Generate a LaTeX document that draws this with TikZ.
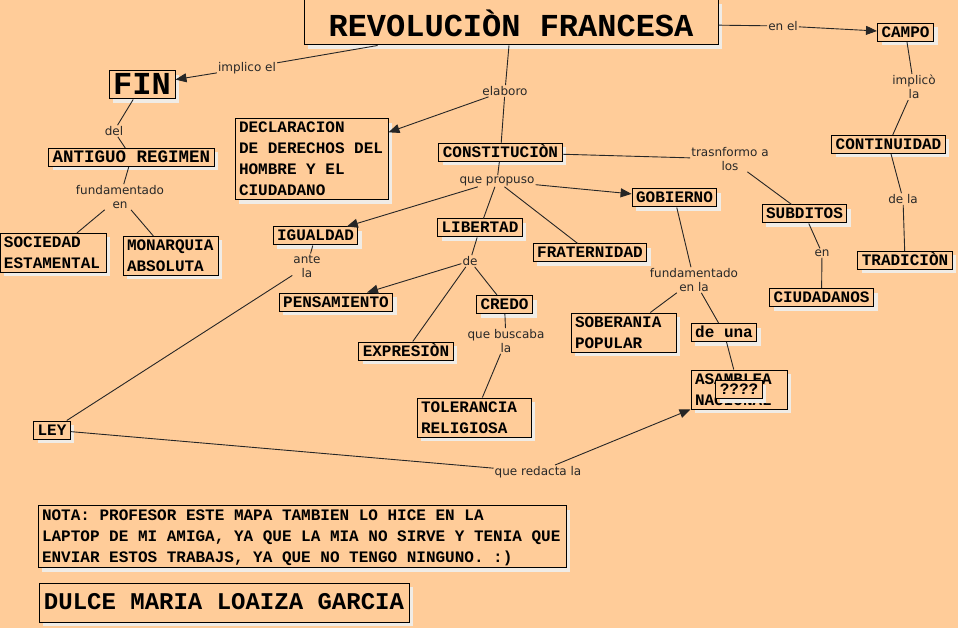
\documentclass[tikz,border=0pt]{standalone}
\usepackage{fontspec}
\usetikzlibrary{arrows.meta,shadows}
\newfontfamily\monofont{Liberation Mono}
\newfontfamily\labfont{DejaVu Sans}
\definecolor{bg}{RGB}{255,204,153}
\definecolor{shadowc}{RGB}{240,236,230}
\definecolor{labc}{RGB}{40,40,40}
\tikzset{
  cbox/.style={draw=black, line width=1pt, fill=bg,
    font=\monofont\bfseries\fontsize{16}{21}\selectfont,
    inner xsep=4pt, inner ysep=2pt, text height=12pt, text depth=2pt,
    drop shadow={shadow xshift=4pt, shadow yshift=-4pt, fill=shadowc, opacity=1}},
  mcbox/.style={cbox, align=left, text width=#1,
    execute at begin node={\frenchspacing\spaceskip=9.6pt\relax\xspaceskip=9.6pt\relax}},
  two/.style={text depth=23pt},
  three/.style={text depth=44pt},
  four/.style={text depth=65pt},
  lab/.style={font=\labfont\fontsize{12}{14}\selectfont, text=labc, align=center, inner sep=1pt},
  con/.style={draw=black!85, line width=0.9pt},
  arr/.style={con, -{Triangle[length=11pt,width=9pt]}},
}
\begin{document}
\begin{tikzpicture}[x=1pt,y=-1pt]
\fill[bg] (0,0) rectangle (958,628);
\useasboundingbox (0,0) rectangle (958,628);

% concepts
\node[cbox, font=\monofont\bfseries\fontsize{32}{36}\selectfont, minimum width=414pt, minimum height=45pt, text height=29pt, text depth=1pt] (rev) at (511,22.5) {REVOLUCIÒN FRANCESA};
\node[cbox, font=\monofont\bfseries\fontsize{32}{36}\selectfont, minimum width=66pt, minimum height=28pt, text height=21pt, text depth=1pt, inner xsep=2pt] (fin) at (142,85) {FIN};
\node[cbox, font=\monofont\bfseries\fontsize{17.5}{21}\selectfont] (antiguo) at (131.5,157.5) {ANTIGUO REGIMEN};
\node[mcbox=145pt, four] (decl) at (311.5,159.5) {DECLARACION\\DE DERECHOS DEL\\HOMBRE Y EL\\CIUDADANO};
\node[cbox] (const) at (500.5,152.5) {CONSTITUCIÒN};
\node[cbox] (campo) at (905.5,32.5) {CAMPO};
\node[cbox] (contin) at (888.5,144.5) {CONTINUIDAD};
\node[cbox] (gob) at (674.5,198) {GOBIERNO};
\node[cbox] (subd) at (804.5,214) {SUBDITOS};
\node[cbox] (trad) at (905,260.5) {TRADICIÒN};
\node[cbox] (ciud) at (821.5,297.5) {CIUDADANOS};
\node[cbox] (frat) at (590,253) {FRATERNIDAD};
\node[mcbox=97pt, two] (sob) at (623.5,332.5) {SOBERANIA\\POPULAR};
\node[cbox] (deuna) at (724,332.5) {de una};
\node[mcbox=88pt, two] (asam) at (739,389.5) {ASAMBLEA\\NACIONAL};
\node[cbox] (qqq) at (739,389.5) {????};
\node[cbox] (igual) at (315.5,236) {IGUALDAD};
\node[cbox] (libert) at (480,228) {LIBERTAD};
\node[cbox] (pens) at (336,302) {PENSAMIENTO};
\node[cbox] (credo) at (504.5,304.5) {CREDO};
\node[cbox] (expr) at (406,351) {EXPRESIÒN};
\node[mcbox=106pt, two] (toler) at (474,417.5) {TOLERANCIA\\RELIGIOSA};
\node[mcbox=98pt, two] (soc) at (53,253) {SOCIEDAD\\ESTAMENTAL};
\node[mcbox=87pt, two] (monar) at (170.5,256) {MONARQUIA\\ABSOLUTA};
\node[cbox] (ley) at (52,430) {LEY};
\node[mcbox=520pt, three, inner ysep=3pt] (nota) at (302,536.5) {NOTA: PROFESOR ESTE MAPA TAMBIEN LO HICE EN LA\\LAPTOP DE MI AMIGA, YA QUE LA MIA NO SIRVE Y TENIA QUE\\ENVIAR ESTOS TRABAJS, YA QUE NO TENGO NINGUNO. :)};
\node[cbox, font=\monofont\bfseries\fontsize{24}{28}\selectfont, minimum width=370pt, minimum height=39pt, text height=15pt, text depth=2pt] (dulce) at (224,602.5) {DULCE MARIA LOAIZA GARCIA};

% linking phrases
\node[lab] (implico) at (247,68) {implico el};
\node[lab] (elaboro) at (505,91) {elaboro};
\node[lab] (enel) at (783,26) {en el};
\node[lab] (implicola) at (914,87) {implicò\\la};
\node[lab] (trasn) at (730,159) {trasnformo a\\los};
\node[lab] (dela) at (903,199) {de la};
\node[lab] (en) at (822,253) {en};
\node[lab] (fundla) at (694,280) {fundamentado\\en la};
\node[lab] (del) at (114,131) {del};
\node[lab] (funden) at (120,197) {fundamentado\\en};
\node[lab] (propuso) at (497,181) {que propuso};
\node[lab] (ante) at (307,266) {ante\\la};
\node[lab] (de) at (470,261) {de};
\node[lab] (buscaba) at (506,341) {que buscaba\\la};
\node[lab] (redacta) at (538,472) {que redacta la};

% connectors
\draw[con] (rev) -- (implico);
\draw[arr] (implico) -- (fin);
\draw[con] (rev) -- (elaboro);
\draw[arr] (elaboro) -- (decl);
\draw[con] (elaboro) -- (const);
\draw[con] (rev) -- (enel);
\draw[arr] (enel) -- (campo);
\draw[con] (campo) -- (implicola);
\draw[con] (implicola) -- (contin);
\draw[con] (contin) -- (dela);
\draw[con] (dela) -- (trad);
\draw[con] (const) -- (trasn);
\draw[con] (trasn) -- (subd);
\draw[con] (subd) -- (en);
\draw[con] (en) -- (ciud);
\draw[con] (const) -- (propuso);
\draw[arr] (propuso) -- (gob);
\draw[con] (propuso) -- (libert);
\draw[con] (propuso) -- (frat);
\draw[arr] (propuso) -- (igual);
\draw[con] (igual) -- (ante);
\draw[con] (ante) -- (ley);
\draw[con] (libert) -- (de);
\draw[arr] (de) -- (pens);
\draw[con] (de) -- (expr);
\draw[con] (de) -- (credo);
\draw[con] (credo) -- (buscaba);
\draw[con] (buscaba) -- (toler);
\draw[con] (gob) -- (fundla);
\draw[con] (fundla) -- (sob);
\draw[con] (fundla) -- (deuna);
\draw[con] (deuna) -- (asam);
\draw[con] (ley) -- (redacta);
\draw[arr] (redacta) -- (asam);
\draw[con] (fin) -- (del);
\draw[con] (del) -- (antiguo);
\draw[con] (antiguo) -- (funden);
\draw[con] (funden) -- (soc);
\draw[con] (funden) -- (monar);
\end{tikzpicture}
\end{document}
